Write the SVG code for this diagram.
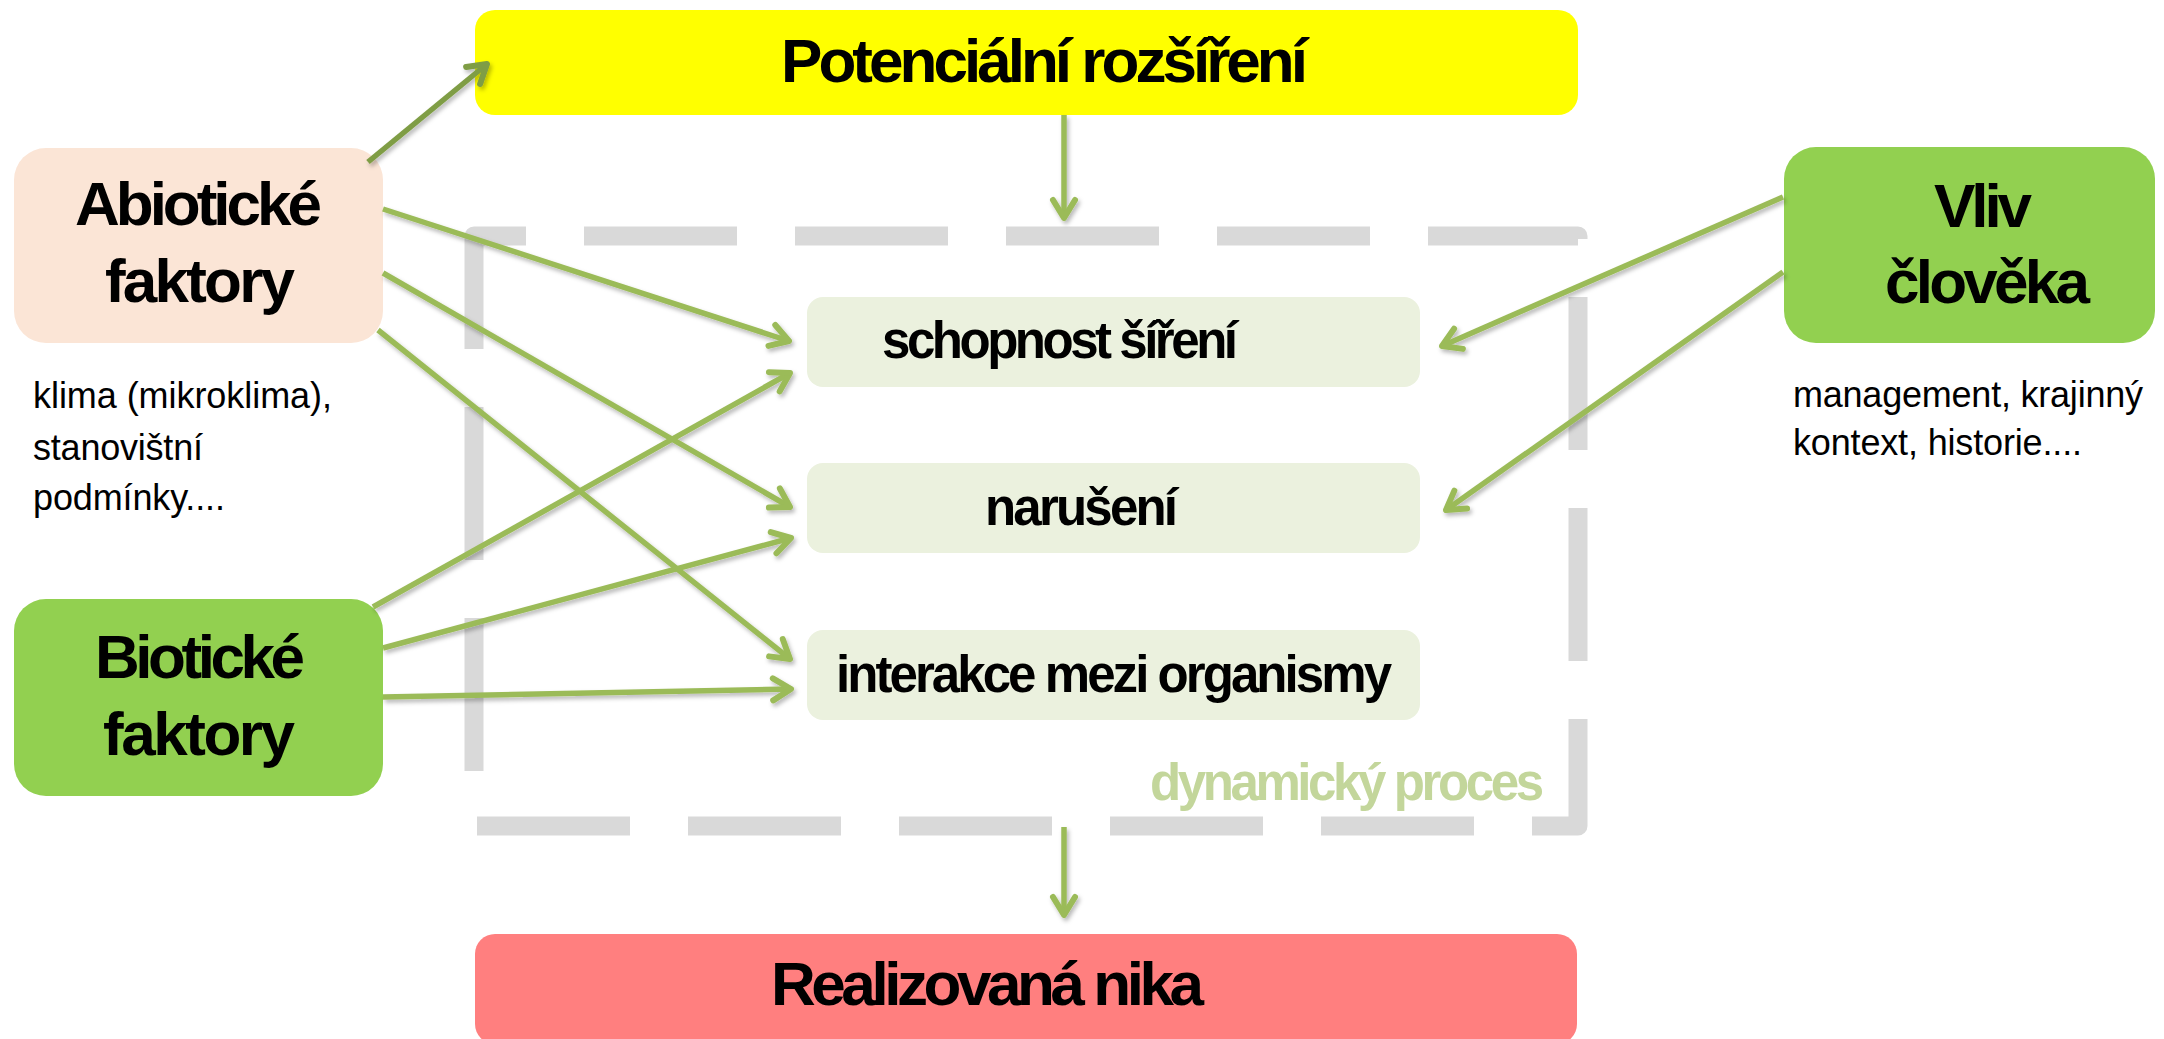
<svg xmlns="http://www.w3.org/2000/svg" width="2164" height="1039" viewBox="0 0 2164 1039">
  <defs>
    <style>
      .title { font-family: "Liberation Sans", Arial, sans-serif; font-weight: bold; font-size: 62px; fill: #000; }
      .item { font-family: "Liberation Sans", Arial, sans-serif; font-weight: bold; font-size: 51px; fill: #000; }
      .note { font-family: "Liberation Sans", Arial, sans-serif; font-size: 36px; fill: #000; }
      .proc { font-family: "Liberation Sans", Arial, sans-serif; font-weight: bold; font-size: 51px; fill: #C3D69B; }
      .link { fill: none; stroke: #9BBB59; stroke-width: 5.5; marker-end: url(#head); }
      .link.dark { stroke: #7F9D45; marker-end: url(#headDark); }
      .frame { fill: none; stroke: #D9D9D9; stroke-width: 19; stroke-dasharray: 153 58; stroke-dashoffset: 101; stroke-linejoin: round; }
    </style>
    <marker id="head" markerUnits="userSpaceOnUse" viewBox="-24 -16 30 32" refX="0" refY="0" markerWidth="30" markerHeight="32" orient="auto">
      <path d="M-18,-11 L0,0 L-18,11" fill="none" stroke="#9BBB59" stroke-width="6" stroke-linecap="round" stroke-linejoin="round"/>
    </marker>
    <marker id="headDark" markerUnits="userSpaceOnUse" viewBox="-24 -16 30 32" refX="0" refY="0" markerWidth="30" markerHeight="32" orient="auto">
      <path d="M-18,-11 L0,0 L-18,11" fill="none" stroke="#7F9D45" stroke-width="6" stroke-linecap="round" stroke-linejoin="round"/>
    </marker>
    <filter id="shadow" x="-10%" y="-10%" width="120%" height="120%">
      <feDropShadow dx="2" dy="3" stdDeviation="2" flood-color="#000" flood-opacity="0.28"/>
    </filter>
  </defs>

  <rect width="2164" height="1039" fill="#FFFFFF"/>

  <!-- dashed frame around the dynamic process -->
  <g id="process-frame">
    <path class="frame" d="M474,236 H1578 V826 H474 Z"/>
    <text class="proc" x="1150" y="800" textLength="394">dynamický proces</text>
  </g>

  <g id="potencialni">
    <rect x="475" y="10" width="1103" height="105" rx="20" fill="#FFFF00"/>
    <text class="title" x="781" y="82" textLength="527">Potenciální rozšíření</text>
  </g>

  <g id="abioticke">
    <rect x="14" y="148" width="369" height="195" rx="32" fill="#FBE5D6"/>
    <text class="title" x="75" y="225" textLength="247">Abiotické</text>
    <text class="title" x="105" y="302" textLength="190">faktory</text>
    <text class="note" x="33" y="408" textLength="299">klima (mikroklima),</text>
    <text class="note" x="33" y="460" textLength="170">stanovištní</text>
    <text class="note" x="33" y="510" textLength="192">podmínky....</text>
  </g>

  <g id="bioticke">
    <rect x="14" y="599" width="369" height="197" rx="32" fill="#92D050"/>
    <text class="title" x="95" y="678" textLength="210">Biotické</text>
    <text class="title" x="103" y="755" textLength="192">faktory</text>
  </g>

  <g id="vliv-cloveka">
    <rect x="1784" y="147" width="371" height="196" rx="32" fill="#92D050"/>
    <text class="title" x="1934" y="227" textLength="98">Vliv</text>
    <text class="title" x="1885" y="303" textLength="205">člověka</text>
    <text class="note" x="1793" y="407" textLength="350">management, krajinný</text>
    <text class="note" x="1793" y="455" textLength="289">kontext, historie....</text>
  </g>

  <g id="schopnost-sireni">
    <rect x="807" y="297" width="613" height="90" rx="16" fill="#EBF1DE"/>
    <text class="item" x="882" y="358" textLength="356">schopnost šíření</text>
  </g>

  <g id="naruseni">
    <rect x="807" y="463" width="613" height="90" rx="16" fill="#EBF1DE"/>
    <text class="item" x="985" y="525" textLength="193">narušení</text>
  </g>

  <g id="interakce">
    <rect x="807" y="630" width="613" height="90" rx="16" fill="#EBF1DE"/>
    <text class="item" x="836" y="692" textLength="556">interakce mezi organismy</text>
  </g>

  <g id="realizovana-nika">
    <rect x="475" y="934" width="1102" height="110" rx="20" fill="#FF7F7F"/>
    <text class="title" x="771" y="1005" textLength="433">Realizovaná nika</text>
  </g>

  <!-- connectors -->
  <g id="connectors" filter="url(#shadow)">
    <line class="link dark" x1="368" y1="162" x2="487" y2="64"/>
    <line class="link" x1="383" y1="209" x2="789" y2="341"/>
    <line class="link" x1="383" y1="273" x2="790" y2="507"/>
    <line class="link" x1="378" y1="330" x2="790" y2="659"/>
    <line class="link" x1="373" y1="607" x2="790" y2="373"/>
    <line class="link" x1="383" y1="648" x2="791" y2="538"/>
    <line class="link" x1="383" y1="697" x2="791" y2="689"/>
    <line class="link" x1="1783" y1="197" x2="1442" y2="346"/>
    <line class="link" x1="1783" y1="272" x2="1446" y2="510"/>
    <line class="link" x1="1064" y1="115" x2="1064" y2="218"/>
    <line class="link" x1="1064" y1="827" x2="1064" y2="915"/>
  </g>
</svg>
